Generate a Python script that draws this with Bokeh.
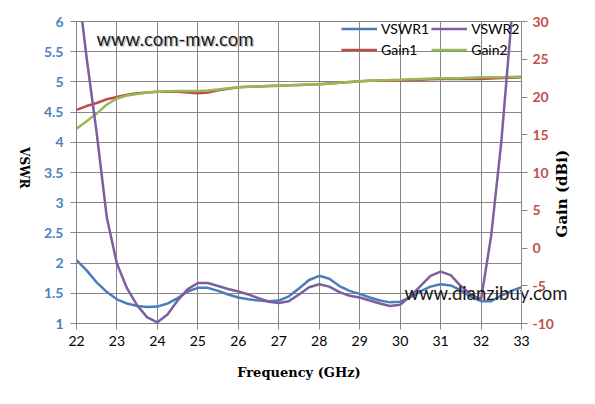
import math
from bokeh.plotting import figure
from bokeh.models import Range1d, LinearAxis, FixedTicker, Legend, LegendItem, Label
from bokeh.embed import file_html
from bokeh.resources import INLINE

# ---------------- data ----------------
freq = [22.0, 22.25, 22.5, 22.75, 23.0, 23.25, 23.5, 23.75, 24.0, 24.25, 24.5, 24.75,
        25.0, 25.25, 25.5, 25.75, 26.0, 26.25, 26.5, 26.75, 27.0, 27.25, 27.5, 27.75,
        28.0, 28.25, 28.5, 28.75, 29.0, 29.25, 29.5, 29.75, 30.0, 30.25, 30.5, 30.75,
        31.0, 31.25, 31.5, 31.75, 32.0, 32.25, 32.5, 32.75, 33.0]

vswr1 = [2.05, 1.88, 1.68, 1.52, 1.40, 1.33, 1.29, 1.275, 1.28, 1.33, 1.42, 1.53,
         1.59, 1.59, 1.54, 1.48, 1.43, 1.40, 1.38, 1.37, 1.38, 1.45, 1.58, 1.72,
         1.79, 1.74, 1.62, 1.54, 1.49, 1.43, 1.38, 1.35, 1.36, 1.43, 1.53, 1.61,
         1.65, 1.63, 1.55, 1.44, 1.37, 1.37, 1.46, 1.54, 1.60]

vswr2 = [6.8, 5.4, 4.15, 2.75, 1.99, 1.58, 1.30, 1.10, 1.02, 1.15, 1.38, 1.57,
         1.67, 1.67, 1.62, 1.57, 1.53, 1.48, 1.42, 1.36, 1.34, 1.37, 1.48, 1.60,
         1.65, 1.61, 1.52, 1.46, 1.43, 1.38, 1.33, 1.29, 1.31, 1.45, 1.62, 1.79,
         1.86, 1.80, 1.62, 1.48, 1.40, 2.45, 4.00, 6.00, 8.30]

gain1 = [18.3, 18.8, 19.2, 19.7, 20.0, 20.3, 20.5, 20.6, 20.7, 20.7, 20.7, 20.6,
         20.5, 20.6, 20.9, 21.1, 21.3, 21.35, 21.4, 21.45, 21.5, 21.55, 21.6, 21.65,
         21.7, 21.8, 21.9, 22.0, 22.1, 22.15, 22.2, 22.2, 22.2, 22.25, 22.3, 22.35,
         22.4, 22.4, 22.4, 22.4, 22.4, 22.45, 22.5, 22.55, 22.6]

gain2 = [15.8, 16.8, 17.8, 19.0, 19.8, 20.2, 20.4, 20.6, 20.7, 20.75, 20.8, 20.8,
         20.8, 20.85, 21.0, 21.15, 21.3, 21.35, 21.4, 21.45, 21.5, 21.55, 21.6, 21.65,
         21.7, 21.8, 21.9, 22.0, 22.1, 22.15, 22.2, 22.25, 22.3, 22.35, 22.4, 22.45,
         22.5, 22.5, 22.5, 22.55, 22.6, 22.6, 22.6, 22.65, 22.7]

freq_ticks = [22, 23, 24, 25, 26, 27, 28, 29, 30, 31, 32, 33]
vswr_ticks = [1, 1.5, 2, 2.5, 3, 3.5, 4, 4.5, 5, 5.5, 6]
gain_ticks = [-10, -5, 0, 5, 10, 15, 20, 25, 30]

series_names = ["VSWR1", "VSWR2", "Gain1", "Gain2"]
x_title = "Frequency (GHz)"
y_title = "VSWR"
y2_title = "Gain (dBi)"
watermarks = ["www.com-mw.com", "www.dianzibuy.com"]

# ---------------- styles ----------------
GRID = "#868686"
C_V1 = "#4A7EBB"
C_V2 = "#7D5FA0"
C_G1 = "#BE4B48"
C_G2 = "#98B954"
C_LEFT = "#4F81BD"
C_RIGHT = "#C0504D"
SERIF = "DejaVu Serif"
WM_FONT = "Lato"
WM_SIZE = "18.5px"

p = figure(width=587, height=396, output_backend="svg", toolbar_location=None,
           x_range=Range1d(22, 33), y_range=Range1d(1, 6),
           min_border_left=76, min_border_right=66, min_border_top=21, min_border_bottom=73,
           x_axis_label=x_title)
p.extra_y_ranges = {"gain": Range1d(-10, 30)}
gax = LinearAxis(y_range_name="gain")
p.add_layout(gax, "right")

p.background_fill_color = "white"
p.border_fill_color = "white"
p.outline_line_color = GRID
p.outline_line_width = 1

p.xgrid.ticker = FixedTicker(ticks=freq_ticks)
p.ygrid.ticker = FixedTicker(ticks=vswr_ticks)
for g in (p.xgrid, p.ygrid):
    g.grid_line_color = GRID
    g.grid_line_alpha = 1.0
    g.grid_line_width = 1

xa = p.xaxis[0]
xa.ticker = FixedTicker(ticks=freq_ticks)
xa.major_label_overrides = {t: str(t) for t in freq_ticks}
ya = p.yaxis[0]
ya.ticker = FixedTicker(ticks=vswr_ticks)
ya.major_label_overrides = {t: f"{t:g}" for t in vswr_ticks}
gax.ticker = FixedTicker(ticks=gain_ticks)
gax.major_label_overrides = {t: str(t) for t in gain_ticks}

for ax in (xa, ya, gax):
    ax.axis_line_color = GRID
    ax.major_tick_line_color = GRID
    ax.major_tick_out = 6
    ax.major_tick_in = 0
    ax.minor_tick_line_color = None

xa.major_label_text_font = "Lato"
xa.major_label_text_font_size = "14px"
xa.major_label_text_color = "black"
xa.major_label_standoff = 6
xa.axis_label_text_font = SERIF
xa.axis_label_text_font_style = "bold"
xa.axis_label_text_color = "black"
xa.axis_label_text_font_size = "13px"
xa.axis_label_standoff = 16

ya.major_label_text_font = "Lato"
ya.major_label_text_font_size = "14px"
ya.major_label_text_font_style = "bold"
ya.major_label_text_color = C_LEFT
ya.major_label_standoff = 7

gax.major_label_text_font = "Lato"
gax.major_label_text_font_size = "14px"
gax.major_label_text_font_style = "bold"
gax.major_label_text_color = C_RIGHT
gax.major_label_standoff = 5


# An axis that carries one rotated/placed text as its only tick label; axes live in
# the side panels, so the text is not clipped to the plot frame.
def text_axis(side, text, at, angle, standoff, font, size, color, range_name=None):
    kw = {} if range_name is None else {"y_range_name": range_name}
    ax = LinearAxis(ticker=FixedTicker(ticks=[at]), **kw)
    ax.major_label_overrides = {at: text}
    ax.axis_line_color = None
    ax.major_tick_line_color = None
    ax.minor_tick_line_color = None
    ax.major_tick_out = 0
    ax.major_tick_in = 0
    ax.major_label_standoff = standoff
    ax.major_label_orientation = angle
    ax.major_label_text_font = font
    ax.major_label_text_font_size = size
    ax.major_label_text_font_style = "bold" if font == SERIF else "normal"
    ax.major_label_text_color = color
    p.add_layout(ax, side)
    return ax

# VSWR title: reads top-to-bottom, its lower end near VSWR 3.235 on screen
text_axis("left", y_title, 3.235, -math.pi / 2, 17, SERIF, "12px", "black")
# Gain title: reads bottom-to-top, its lower end near 1.4 dBi on screen
text_axis("right", y2_title, 1.4, math.pi / 2, 6, SERIF, "15px", "black", "gain")
# second watermark, centred near 32.12 GHz, pulled down into the plot
text_axis("above", watermarks[1], 32.12, "horizontal", -282, WM_FONT, WM_SIZE, "#1a1a1a")

# ---------------- lines ----------------
r_g1 = p.line(freq, gain1, y_range_name="gain", line_color=C_G1, line_width=2.5)
r_g2 = p.line(freq, gain2, y_range_name="gain", line_color=C_G2, line_width=2.5)
r_v1 = p.line(freq, vswr1, line_color=C_V1, line_width=2.5)
r_v2 = p.line(freq, vswr2, line_color=C_V2, line_width=2.5)

legend = Legend(items=[LegendItem(label=series_names[0], renderers=[r_v1]),
                       LegendItem(label=series_names[1], renderers=[r_v2]),
                       LegendItem(label=series_names[2], renderers=[r_g1]),
                       LegendItem(label=series_names[3], renderers=[r_g2])],
                location=(265, 264), orientation="horizontal", ncols=2,
                background_fill_alpha=0, border_line_alpha=0,
                padding=0, margin=0, spacing=2,
                glyph_width=36, glyph_height=19, label_height=19, label_standoff=4,
                label_text_font="Lato", label_text_font_size="14px",
                label_text_color="black")
p.add_layout(legend)

# ---------------- first watermark (inside the frame) ----------------
p.add_layout(Label(x=20, y=285, x_units="screen", y_units="screen", text=watermarks[0],
                   text_baseline="middle", text_align="left", level="overlay",
                   x_offset=1.5, y_offset=-1.5,
                   text_font=WM_FONT, text_font_size=WM_SIZE, text_color="#c8c8c8"))
p.add_layout(Label(x=20, y=285, x_units="screen", y_units="screen", text=watermarks[0],
                   text_baseline="middle", text_align="left", level="overlay",
                   text_font=WM_FONT, text_font_size=WM_SIZE, text_color="#1a1a1a"))

open("out.html", "w").write(file_html(p, INLINE))
